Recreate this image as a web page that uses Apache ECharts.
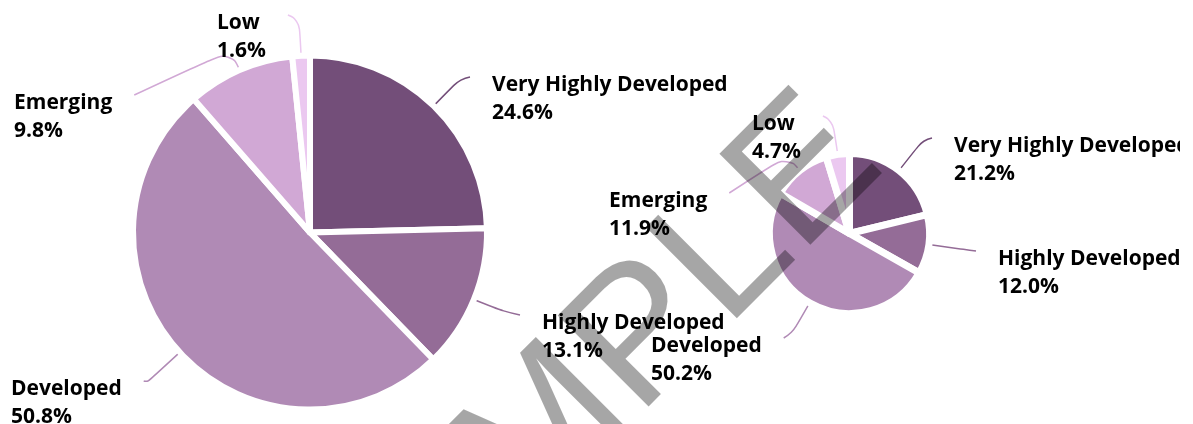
<!DOCTYPE html>
<html>
<head>
<meta charset="utf-8">
<script src="https://cdn.jsdelivr.net/npm/echarts@6/dist/echarts.min.js"></script>
<style>
  body { margin: 0; background: #fff; }
  #chart { width: 1180px; height: 424px; }
</style>
</head>
<body>
<div id="chart"></div>
<script>
var categories = ['Very Highly Developed', 'Highly Developed', 'Developed', 'Emerging', 'Low'];
var leftValues = [24.6, 13.1, 50.8, 9.8, 1.6];
var rightValues = [21.2, 12.0, 50.2, 11.9, 4.7];
var colors = ['#734e79', '#946c97', '#b08ab5', '#d1a8d5', '#ebc8f0'];

// leader line radial length and label cap-top-left position, per slice
var leftLineLen = [38, 32, 44, 22, 36];
var leftLabelAt = [[493, 75], [543, 313], [12, 379], [15, 93], [218, 13]];
var rightLineLen = [39, 35, 35, 20, 34];
var rightLabelAt = [[955, 136], [999, 249], [652, 336], [610, 191], [753, 114]];

function pieSeries(values, center, radius, border, lineLen, labelAt) {
    return {
        type: 'pie',
        center: center,
        radius: radius,
        startAngle: 90,
        clockwise: true,
        avoidLabelOverlap: false,
        silent: true,
        itemStyle: { borderColor: '#fff', borderWidth: border },
        label: {
            formatter: function (p) {
                return p.name + '\n' + p.value.toFixed(1) + '%';
            },
            fontFamily: 'Open Sans',
            fontWeight: 'bold',
            fontSize: 21,
            lineHeight: 28,
            color: '#000'
        },
        labelLine: { smooth: 0.5, lineStyle: { width: 1.5 } },
        labelLayout: function (p) {
            var at = labelAt[p.dataIndex];
            var pts = p.labelLinePoints;
            var x = at[0] - 1;
            var y = at[1] - 4;
            var w = p.labelRect.width;
            var endX = (x + w / 2 < pts[1][0]) ? x + w + 22 : x - 22;
            return {
                x: x,
                y: y,
                align: 'left',
                verticalAlign: 'top',
                labelLinePoints: [pts[0], pts[1], [endX, at[1] + 2]]
            };
        },
        data: values.map(function (v, i) {
            return {
                value: v,
                name: categories[i],
                itemStyle: { color: colors[i] },
                labelLine: { length: lineLen[i], length2: 10 }
            };
        })
    };
}

var myChart = echarts.init(document.getElementById('chart'));
var option = {
    animation: false,
    series: [
        pieSeries(leftValues, [310, 232.5], 177, 6, leftLineLen, leftLabelAt),
        pieSeries(rightValues, [849.5, 233.5], 80, 7, rightLineLen, rightLabelAt)
    ],
    graphic: [{
        type: 'text',
        x: 583,
        y: 399,
        rotation: Math.PI / 4,
        z: 100,
        silent: true,
        style: {
            text: 'SAMPLE',
            fontFamily: 'Liberation Sans',
            fontSize: 187,
            fill: 'rgba(0,0,0,0.35)',
            align: 'center',
            verticalAlign: 'middle'
        }
    }]
};
option && myChart.setOption(option);
</script>
</body>
</html>
